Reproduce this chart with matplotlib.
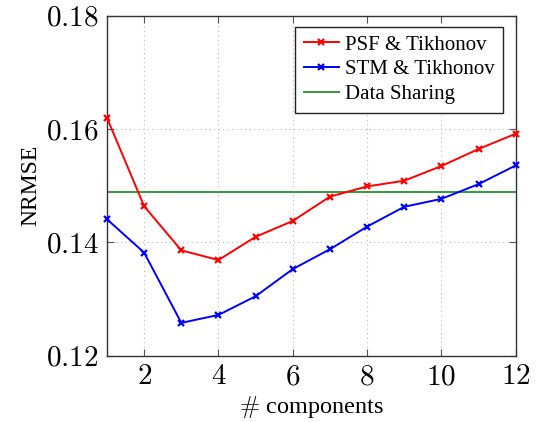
import numpy as np
import matplotlib
matplotlib.use("Agg")
import matplotlib.pyplot as plt

plt.rcParams['font.family'] = ['Liberation Serif', 'DejaVu Serif']
plt.rcParams['mathtext.fontset'] = 'cm'

# data
components = [1, 2, 3, 4, 5, 6, 7, 8, 9, 10, 11, 12]
psf_tikhonov = [0.1620, 0.1464, 0.1386, 0.1369, 0.1410, 0.1438,
                0.1481, 0.1499, 0.1509, 0.1535, 0.1565, 0.1592]
stm_tikhonov = [0.1441, 0.1382, 0.1258, 0.1272, 0.1305, 0.1353,
                0.1388, 0.1428, 0.1463, 0.1477, 0.1503, 0.1536]
data_sharing = 0.1490

x_ticks = [2, 4, 6, 8, 10, 12]
y_ticks = [0.12, 0.14, 0.16, 0.18]

fig = plt.figure(figsize=(5.41, 4.22), dpi=100)
ax = fig.add_axes([0.1978, 0.1571, 0.9532 - 0.1978, 0.9621 - 0.1571])

ax.plot(components, psf_tikhonov, '-x', color='red', lw=1.4, ms=5, mew=1.6,
        label='PSF & Tikhonov', clip_on=False, zorder=3)
ax.plot(components, stm_tikhonov, '-x', color='blue', lw=1.4, ms=5, mew=1.6,
        label='STM & Tikhonov', clip_on=False, zorder=3)
ax.axhline(data_sharing, color='#33993a', lw=1.4, label='Data Sharing')

ax.set_xlim(1, 12)
ax.set_ylim(0.12, 0.18)
ax.set_xticks(x_ticks)
ax.set_xticklabels([f'${t}$' for t in x_ticks])
ax.set_yticks(y_ticks)
ax.set_yticklabels([f'${t:.2f}$' for t in y_ticks])
ax.tick_params(direction='in', labelsize=21, length=5, color='#555555',
               top=True, right=True, pad=6)
ax.grid(True, linestyle=(0, (1, 3)), color='#bbbbbb', lw=0.8)
for s in ax.spines.values():
    s.set_color('#333333')
    s.set_linewidth(1.0)

ax.set_xlabel(r'$\#$ components', fontsize=17.5, labelpad=3)
ax.set_ylabel('NRMSE', fontsize=17, labelpad=3)

leg = ax.legend(loc='upper right', bbox_to_anchor=(0.9697, 0.9685),
                borderaxespad=0, fontsize=15, numpoints=1, fancybox=False,
                framealpha=1, edgecolor='#222222', handlelength=1.7,
                labelspacing=0.25, handletextpad=0.3, borderpad=0.4)
leg.get_frame().set_linewidth(1.0)

fig.savefig('out.png', dpi=100)
